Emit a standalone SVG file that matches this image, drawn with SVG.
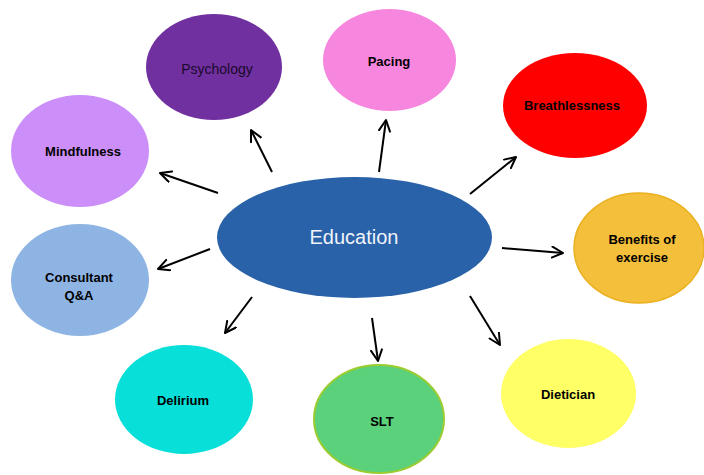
<svg xmlns="http://www.w3.org/2000/svg" width="704" height="475" viewBox="0 0 704 475">
<defs>
<marker id="arr" viewBox="0 0 13 13" refX="12" refY="6.5" markerWidth="13" markerHeight="13" markerUnits="userSpaceOnUse" orient="auto">
<path d="M1,1 L12,6.5 L1,12" fill="none" stroke="#000" stroke-width="2" stroke-linecap="round" stroke-linejoin="round"/>
</marker>
</defs>
<style>
text{font-family:"Liberation Sans",Arial,sans-serif;text-anchor:middle;fill:#000}
.b{font-weight:bold;font-size:13px}
.c{stroke:#000;stroke-width:2;fill:none;marker-end:url(#arr)}
</style>
<rect width="704" height="475" fill="#fff"/>
<g id="connectors">
<line class="c" x1="272" y1="172" x2="251" y2="130"/>
<line class="c" x1="379" y1="172" x2="386" y2="120"/>
<line class="c" x1="470" y1="194" x2="516" y2="157"/>
<line class="c" x1="502" y1="248" x2="563" y2="253"/>
<line class="c" x1="470" y1="296" x2="500" y2="345"/>
<line class="c" x1="372" y1="318" x2="378" y2="361"/>
<line class="c" x1="252" y1="297" x2="225" y2="333"/>
<line class="c" x1="210" y1="249" x2="158" y2="269"/>
<line class="c" x1="218" y1="193" x2="160" y2="173"/>
</g>
<g id="psychology">
<ellipse cx="214" cy="67" rx="68" ry="53" fill="#7030a0"/>
<text x="217" y="74" font-size="14" style="fill:#1a0a2a">Psychology</text>
</g>
<g id="pacing">
<ellipse cx="389.5" cy="60" rx="66.5" ry="51" fill="#f787de"/>
<text class="b" x="389" y="66">Pacing</text>
</g>
<g id="breathlessness">
<ellipse cx="575" cy="105.5" rx="72" ry="52.5" fill="#ff0000"/>
<text class="b" x="572" y="110">Breathlessness</text>
</g>
<g id="benefits">
<ellipse cx="639" cy="248" rx="65" ry="55" fill="#f4bf3a" stroke="#eab020" stroke-width="1.5"/>
<text class="b" x="642" y="244">Benefits of</text>
<text class="b" x="642" y="262">exercise</text>
</g>
<g id="dietician">
<ellipse cx="568.5" cy="393.5" rx="67.5" ry="54.5" fill="#ffff66"/>
<text class="b" x="568" y="399">Dietician</text>
</g>
<g id="slt">
<ellipse cx="379" cy="419" rx="65" ry="54" fill="#5ad17a" stroke="#9ccc30" stroke-width="2"/>
<text class="b" x="382" y="426">SLT</text>
</g>
<g id="delirium">
<ellipse cx="184" cy="399.5" rx="69" ry="54.5" fill="#07dfd8"/>
<text class="b" x="183" y="405">Delirium</text>
</g>
<g id="consultant">
<ellipse cx="80" cy="280" rx="69" ry="56" fill="#8eb4e3"/>
<text class="b" x="79" y="282">Consultant</text>
<text class="b" x="79" y="300">Q&amp;A</text>
</g>
<g id="mindfulness">
<ellipse cx="80" cy="151" rx="69" ry="56" fill="#cc8ff9"/>
<text class="b" x="83" y="156">Mindfulness</text>
</g>
<g id="education">
<ellipse cx="354.5" cy="237.5" rx="137.5" ry="60.5" fill="#2962a8"/>
<text x="354" y="244" font-size="20" style="fill:#f0f4fa">Education</text>
</g>
</svg>
